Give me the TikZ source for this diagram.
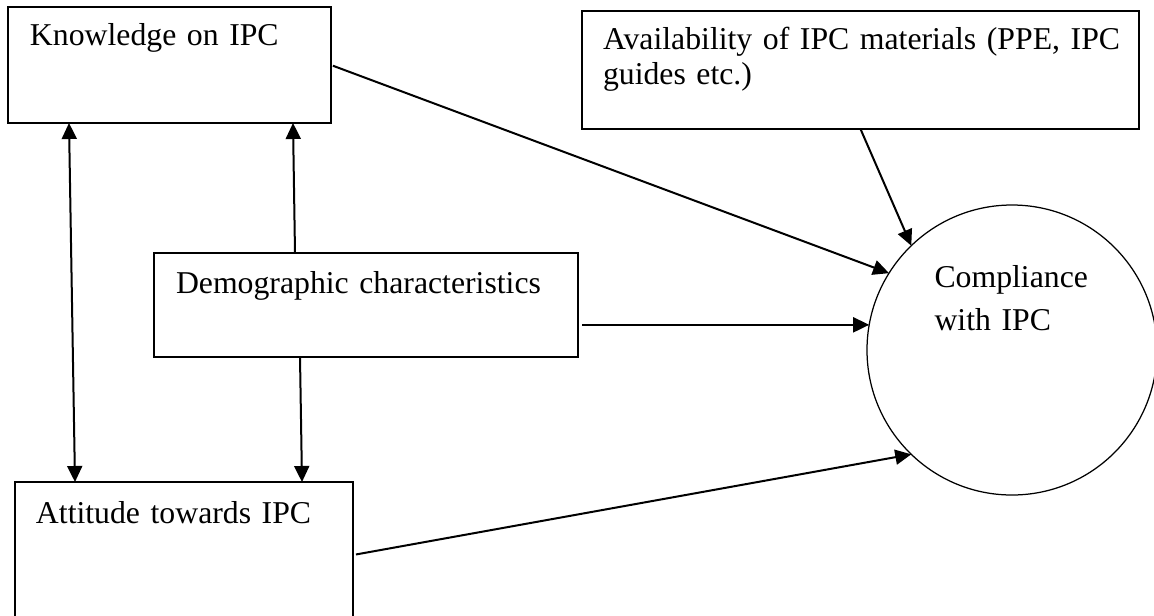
\documentclass[tikz,border=0pt]{standalone}
\usepackage{fontspec}
\setmainfont{Liberation Serif}
\usetikzlibrary{arrows.meta}

\tikzset{
  box/.style={draw, rectangle, line width=0.6pt, anchor=north west, align=left,
    inner ysep=0pt, outer sep=0pt, font=\fontsize{12.7}{14}\selectfont},
  arr/.style={line width=0.8pt, ->, >={Triangle[length=6.4pt,width=6pt]}}
}

\begin{document}
\begin{tikzpicture}[x=0.4pt, y=-0.4pt]
  \useasboundingbox (0,0) rectangle (1154,615);
  \clip (0,0) rectangle (1154,615);

  % factors
  \node[box, inner xsep=8.8pt, text width=111.6pt, text height=15.2pt, text depth=31.2pt]
    (know) at (8,7) {Knowledge on IPC};
  \node[box, inner xsep=8.4pt, text width=206pt, text height=15.2pt, text depth=32pt]
    (avail) at (582,11) {\mbox{Availability of IPC materials (PPE, IPC}\\guides etc.)};
  \node[box, inner xsep=8.8pt, text width=152pt, text height=16pt, text depth=25.6pt]
    (demo) at (154,253) {Demographic characteristics};
  \node[box, inner xsep=8.4pt, text width=118.4pt, text height=16.4pt, text depth=42pt]
    (att) at (15,482) {Attitude towards IPC};

  % outcome
  \node[draw, circle, line width=0.5pt, minimum size=116pt, inner sep=0pt, outer sep=0pt,
    text width=62pt, align=left, text height=10pt, text depth=60.4pt,
    font=\fontsize{12.7}{17.2}\selectfont]
    (comp) at (1012,350) {Compliance\\with IPC};

  % links
  \draw[arr, shorten <=0.8pt] (know.east) -- (comp.148);
  \draw[arr] (avail.south) -- (comp.134);
  \draw[arr, shorten <=1.6pt] (demo.east |- comp.170) -- (comp.170);
  \draw[arr, shorten <=1.2pt] (att.east) -- (comp.226);
  \draw[arr, <->] ([xshift=24.4pt]know.south west) -- ([xshift=24pt]att.north west);
  \draw[arr] ([xshift=56.4pt]demo.north west) -- ([xshift=114pt]know.south west);
  \draw[arr] ([xshift=58.4pt]demo.south west) -- ([xshift=114.8pt]att.north west);
\end{tikzpicture}
\end{document}
